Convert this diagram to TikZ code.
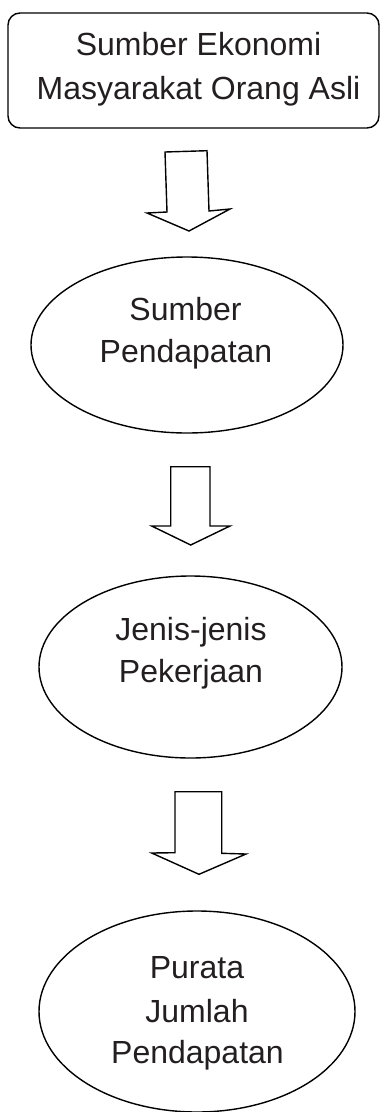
\documentclass[tikz,border=0pt]{standalone}
\usepackage{fontspec}
\setmainfont{Liberation Sans}
\usetikzlibrary{shapes.geometric}
\definecolor{textcol}{RGB}{35,31,32}
\tikzset{
  lbl/.style={anchor=base, inner sep=0pt, text=textcol, font=\fontsize{32}{42}\selectfont},
  outline/.style={draw=black, line width=1.4pt},
  oval/.style={outline, ellipse, inner sep=0pt},
  blockarrow/.style={outline, line join=miter}
}
\begin{document}
\begin{tikzpicture}[x=1pt, y=-1pt]
\useasboundingbox (0,0) rectangle (381,1112);
% top box
\node[outline, rectangle, rounded corners=12pt, minimum width=371pt, minimum height=115pt, inner sep=0pt] (box) at (193.5,70.5) {};
\node[lbl] (b1) at (198.5,55.5) {Sumber Ekonomi};
\node[lbl] (b2) at (198.5,99.5) {Masyarakat Orang Asli};
% arrow 1
\draw[blockarrow] (165,152) -- (207,150.7) -- (209,211) -- (230,209) -- (189,231) -- (147,213) -- (167,212) -- cycle;
% ellipse 1
\node[oval, minimum width=312pt, minimum height=176pt] (e1) at (187,345) {};
\node[lbl] (e1a) at (185.5,320.5) {Sumber};
\node[lbl] (e1b) at (186,362.5) {Pendapatan};
% arrow 2
\draw[blockarrow] (170.7,466.7) -- (210,466.7) -- (210,526) -- (230,526) -- (190.7,545) -- (151.7,526) -- (170.7,526) -- cycle;
% ellipse 2
\node[oval, minimum width=303pt, minimum height=182pt] (e2) at (190.5,667) {};
\node[lbl] (e2a) at (191,640) {Jenis-jenis};
\node[lbl] (e2b) at (191,682) {Pekerjaan};
% arrow 3
\draw[blockarrow] (175,791.7) -- (221.7,791.7) -- (221.7,853.3) -- (246,854) -- (199,874.3) -- (151.7,853) -- (175,852.7) -- cycle;
% ellipse 3
\node[oval, minimum width=316pt, minimum height=201pt] (e3) at (197,1011.5) {};
\node[lbl] (e3a) at (197,978) {Purata};
\node[lbl] (e3b) at (197,1022) {Jumlah};
\node[lbl] (e3c) at (197.5,1063) {Pendapatan};
\end{tikzpicture}
\end{document}
